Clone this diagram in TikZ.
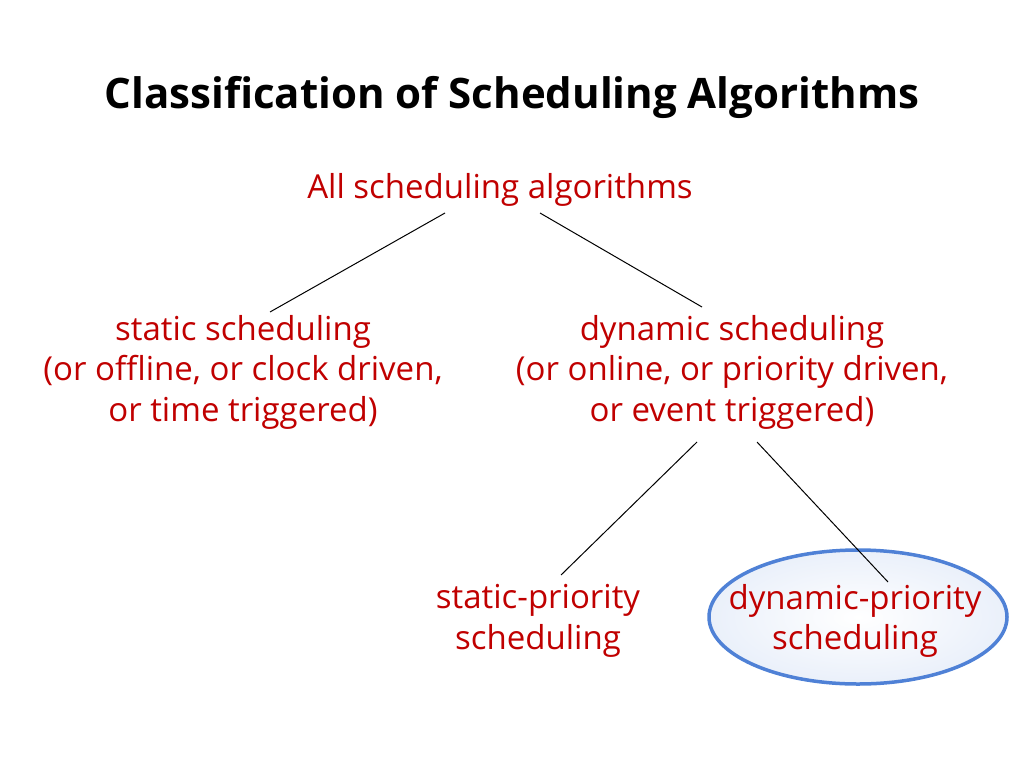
\documentclass[tikz,border=0pt]{standalone}
\usetikzlibrary{shapes.geometric}
\usepackage{fontspec}
\setmainfont{Open Sans}
\definecolor{myred}{RGB}{192,0,0}
\definecolor{myblue}{RGB}{79,129,214}
\begin{document}
\begin{tikzpicture}[x=1pt,y=-1pt,
  lbl/.style={text=myred,font=\fontsize{33}{40.5}\selectfont,align=center,inner sep=0pt},
  con/.style={draw=black,line width=1pt}]
\useasboundingbox (0,0) rectangle (1024,768);
\node[font=\fontsize{42}{48}\selectfont\bfseries] (title) at (512,97) {Classification of Scheduling Algorithms};
\node[lbl] (all) at (500,190) {All scheduling algorithms};
\node[lbl] (stat) at (243,372) {static scheduling\\(or offline, or clock driven,\\or time triggered)};
\node[lbl] (dyn) at (732,372) {dynamic scheduling\\(or online, or priority driven,\\or event triggered)};
\node[lbl] (sp) at (538,621) {static-priority\\scheduling};
\node[draw=myblue,line width=3.5pt,ellipse,minimum width=298pt,minimum height=134pt,inner sep=0pt,
  inner color=white,outer color=myblue!12] (ell) at (858,617) {};
\node[lbl] (dp) at (855,621) {dynamic-priority\\scheduling};
\coordinate (a1) at (445,213); \coordinate (a2) at (270,312);
\coordinate (b1) at (540,213); \coordinate (b2) at (702,307);
\coordinate (c1) at (697,442); \coordinate (c2) at (561,575);
\coordinate (d1) at (757,442); \coordinate (d2) at (888,582);
\draw[con] (a1) -- (a2);
\draw[con] (b1) -- (b2);
\draw[con] (c1) -- (c2);
\draw[con] (d1) -- (d2);
\end{tikzpicture}
\end{document}
